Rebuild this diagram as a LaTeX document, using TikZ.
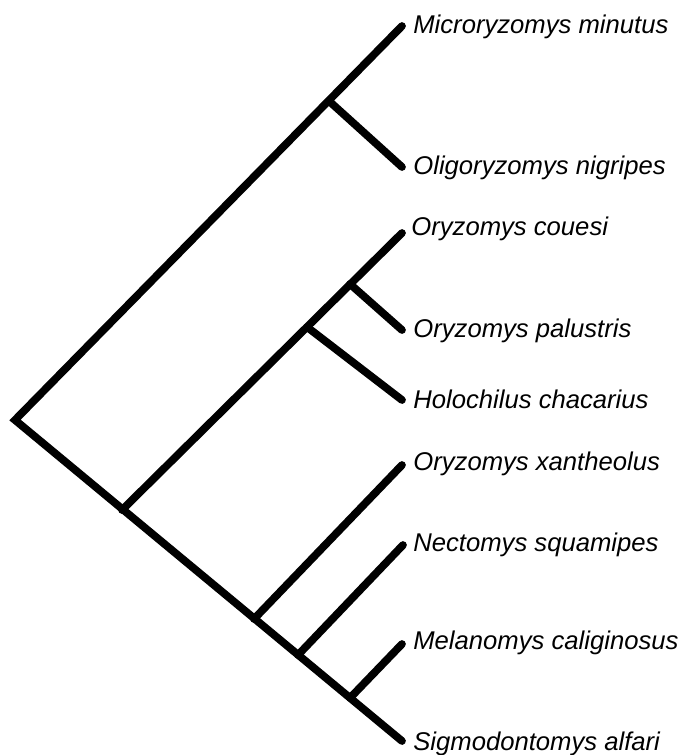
\documentclass[tikz,border=0pt]{standalone}
\usepackage{fontspec}
\setmainfont{Liberation Sans}
\usetikzlibrary{positioning}

\begin{document}
\begin{tikzpicture}[x=0.02cm, y=-0.02cm,
  br/.style={line width=4.4pt, line cap=round, line join=miter},
  taxon/.style={anchor=base west, inner sep=0pt, font=\fontsize{14.6}{17}\selectfont\itshape}]
\useasboundingbox (0,0) rectangle (681,755);
\coordinate (root) at (15,420);
\coordinate (n1) at (329,101);
\coordinate (n2) at (122,510);
\coordinate (n3) at (350,284);
\coordinate (n4) at (307,327);
\coordinate (n5) at (254,619);
\coordinate (n6) at (298,655);
\coordinate (n7) at (350,698);
\coordinate (t1) at (402,26);
\coordinate (t2) at (402,167);
\coordinate (t3) at (402,233);
\coordinate (t4) at (402,330);
\coordinate (t5) at (402,400);
\coordinate (t6) at (402,465);
\coordinate (t7) at (403,545);
\coordinate (t8) at (402,644);
\coordinate (t9) at (402,741);
\draw[br] (t1) -- (root) -- (t9);
\draw[br] (n1) -- (t2);
\draw[br] (n2) -- (t3);
\draw[br] (n3) -- (t4);
\draw[br] (n4) -- (t5);
\draw[br] (n5) -- (t6);
\draw[br] (n6) -- (t7);
\draw[br] (n7) -- (t8);
\node[taxon] (mm) at (413,33) {Microryzomys minutus};
\node[taxon] (on) at (413,174) {Oligoryzomys nigripes};
\node[taxon] (oc) at (411,235) {Oryzomys couesi};
\node[taxon] (op) at (413,337) {Oryzomys palustris};
\node[taxon] (hc) at (413,408) {Holochilus chacarius};
\node[taxon] (ox) at (413,470) {Oryzomys xantheolus};
\node[taxon] (ns) at (413,551) {Nectomys squamipes};
\node[taxon] (mc) at (413,649) {Melanomys caliginosus};
\node[taxon] (sa) at (413,750) {Sigmodontomys alfari};
\end{tikzpicture}
\end{document}
